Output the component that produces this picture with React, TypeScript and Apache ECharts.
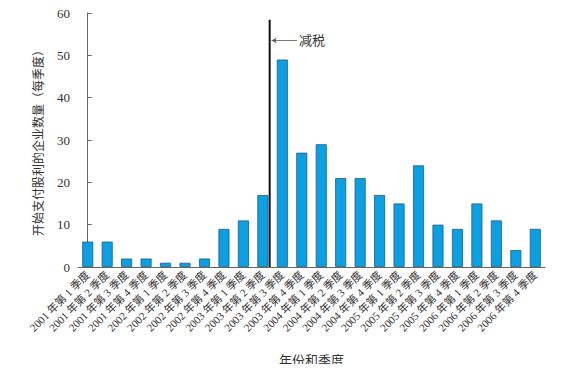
import React, { useEffect, useRef } from "react";
import * as echarts from "echarts";

const categories = [
  "2001 年第 1 季度", "2001 年第 2 季度", "2001 年第 3 季度", "2001 年第 4 季度",
  "2002 年第 1 季度", "2002 年第 2 季度", "2002 年第 3 季度", "2002 年第 4 季度",
  "2003 年第 1 季度", "2003 年第 2 季度", "2003 年第 3 季度", "2003 年第 4 季度",
  "2004 年第 1 季度", "2004 年第 2 季度", "2004 年第 3 季度", "2004 年第 4 季度",
  "2005 年第 1 季度", "2005 年第 2 季度", "2005 年第 3 季度", "2005 年第 4 季度",
  "2006 年第 1 季度", "2006 年第 2 季度", "2006 年第 3 季度", "2006 年第 4 季度",
];
const values = [6, 6, 2, 2, 1, 1, 2, 9, 11, 17, 49, 27, 29, 21, 21, 17, 15, 24, 10, 9, 15, 11, 4, 9];
const taxCutX = 9.35;
const taxCutTop = 58.4;
const annotation = { text: "减税", fromX: 10.75, toX: 9.45, y: 53.5 };
const yTicks = { min: 0, max: 60, interval: 10 };

const FONT = "'Liberation Serif', 'Noto Sans CJK SC', serif";

export default function App() {
  const ref = useRef<HTMLDivElement>(null);
  useEffect(() => {
    if (!ref.current) return;
    const chart = echarts.init(ref.current, undefined, { renderer: "svg" });
    chart.setOption({
      animation: false,
      textStyle: { fontFamily: FONT },
      grid: { left: 78, right: 21, top: 13, bottom: 104, containLabel: false },
      xAxis: [
        {
          type: "category",
          data: categories,
          name: "年份和季度",
          nameLocation: "middle",
          nameGap: 87,
          nameTextStyle: { fontSize: 13, color: "#333", fontFamily: FONT },
          axisLine: { lineStyle: { color: "#666", width: 1 } },
          axisTick: { inside: true, length: 3, lineStyle: { color: "#8a6a50" } },
          axisLabel: { rotate: 45, fontSize: 11, color: "#333", margin: 6, interval: 0, fontFamily: FONT },
        },
        {
          type: "value",
          min: -0.5,
          max: 23.5,
          show: false,
        },
      ],
      yAxis: {
        type: "value",
        min: yTicks.min,
        max: yTicks.max,
        interval: yTicks.interval,
        name: "开始支付股利的企业数量（每季度）",
        nameLocation: "middle",
        nameRotate: 90,
        nameGap: 33,
        nameTextStyle: { fontSize: 12, color: "#333", fontFamily: FONT },
        axisLine: { show: true, lineStyle: { color: "#666", width: 1 } },
        axisTick: { show: true, inside: true, length: 4, lineStyle: { color: "#666" } },
        axisLabel: { fontSize: 13, color: "#333", margin: 8, fontFamily: FONT },
        splitLine: { show: false },
      },
      series: [
        {
          type: "bar",
          data: values,
          barWidth: 11,
          itemStyle: { color: "#0ca0e2", borderColor: "#1b5d86", borderWidth: 0.8 },
        },
        {
          type: "line",
          xAxisIndex: 1,
          data: [[taxCutX, 0], [taxCutX, taxCutTop]],
          symbol: "none",
          lineStyle: { color: "#111", width: 2 },
          markLine: {
            silent: true,
            symbol: ["none", "arrow"],
            symbolSize: [4, 5],
            lineStyle: { color: "#555", width: 0.8, type: "solid" },
            label: {
              show: true,
              position: "start",
              formatter: annotation.text,
              fontSize: 13,
              color: "#333",
              fontFamily: FONT,
              distance: 2,
            },
            data: [
              [
                { coord: [annotation.fromX, annotation.y] },
                { coord: [annotation.toX, annotation.y] },
              ],
            ],
          },
        },
      ],
    });
    return () => chart.dispose();
  }, []);
  return <div ref={ref} style={{ width: 566, height: 372, margin: -8 }} />;
}
